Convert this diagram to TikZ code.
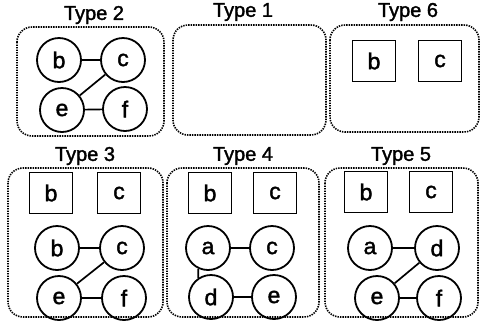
\documentclass[tikz,border=0pt]{standalone}
\usepackage{fontspec}
\setmainfont{Liberation Sans}
\newfontfamily\labelfont{Liberation Sans}[FakeBold=1.6]
\begin{document}
\begin{tikzpicture}[x=1pt,y=-1pt,
  group/.style={draw,line width=1.6pt,dash pattern=on 1.4pt off 1.1pt,rounded corners=15pt},
  title/.style={font=\labelfont\fontsize{20}{20}\selectfont,inner sep=0pt},
  vtx/.style={circle,draw,line width=1.8pt,minimum size=44pt,inner sep=0pt,font=\labelfont\fontsize{23}{23}\selectfont},
  sq/.style={rectangle,draw,line width=1.8pt,minimum width=43pt,minimum height=41pt,inner sep=0pt,font=\labelfont\fontsize{23}{23}\selectfont},
  edge/.style={line width=1.7pt}]
\useasboundingbox (0,0) rectangle (482,325);

% group frames
\draw[group] (17,27) rectangle (164,136);
\draw[group] (173,25) rectangle (326,135);
\draw[group] (330,25) rectangle (479,132);
\draw[group] (8,168) rectangle (163,317);
\draw[group] (167,168) rectangle (319,317);
\draw[group] (325,168) rectangle (478,317);

% titles
\node[title] (t2) at (94,15) {Type 2};
\node[title] (t1) at (243,12) {Type 1};
\node[title] (t6) at (408,12) {Type 6};
\node[title] (t3) at (85,156) {Type 3};
\node[title] (t4) at (243,156) {Type 4};
\node[title] (t5) at (401,156) {Type 5};

% Type 2
\node[vtx] (b2) at (59,60) {b};
\node[vtx] (c2) at (123,60) {c};
\node[vtx] (e2) at (62,110) {e};
\node[vtx] (f2) at (125,109) {f};
\draw[edge] (b2) -- (c2);
\draw[edge] (c2) -- (e2);
\draw[edge] (e2) -- (f2);

% Type 6
\node[sq] (sb6) at (374,61) {b};
\node[sq] (sc6) at (440,61) {c};

% Type 3
\node[sq] (sb3) at (51,193) {b};
\node[sq] (sc3) at (119,193) {c};
\node[vtx] (b3) at (57,248) {b};
\node[vtx] (c3) at (122,248) {c};
\node[vtx] (e3) at (59,298) {e};
\node[vtx] (f3) at (124,298) {f};
\draw[edge] (b3) -- (c3);
\draw[edge] (c3) -- (e3);
\draw[edge] (e3) -- (f3);

% Type 4
\node[sq] (sb4) at (210,193) {b};
\node[sq] (sc4) at (275,193) {c};
\node[vtx] (a4) at (208,248) {a};
\node[vtx] (c4) at (272,248) {c};
\node[vtx] (d4) at (211,297) {d};
\node[vtx] (e4) at (274,297) {e};
\draw[edge] (a4) -- (c4);
\draw[edge] (a4.245) -- (d4.124);
\draw[edge] (d4) -- (e4);

% Type 5
\node[sq] (sb5) at (366,192) {b};
\node[sq] (sc5) at (431,192) {c};
\node[vtx] (a5) at (370,248) {a};
\node[vtx] (d5) at (437,248) {d};
\node[vtx] (e5) at (377,298) {e};
\node[vtx] (f5) at (439,298) {f};
\draw[edge] (a5) -- (d5);
\draw[edge] (d5) -- (e5);
\draw[edge] (e5) -- (f5);
\end{tikzpicture}
\end{document}
